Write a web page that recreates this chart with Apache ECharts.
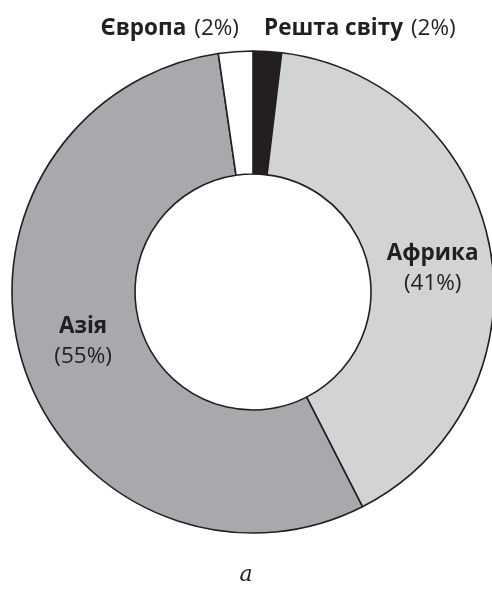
<!DOCTYPE html>
<html>
<head>
<meta charset="utf-8">
<script src="https://cdn.jsdelivr.net/npm/echarts@6/dist/echarts.min.js"></script>
<style>html,body{margin:0;padding:0;background:#fff;}#c{width:492px;height:590px;}</style>
</head>
<body>
<div id="c"></div>
<script>
var categories = ['Решта світу', 'Африка', 'Азія', 'Європа'];
var values = [1.9, 40.6, 55.2, 2.3];
var colors = ['#231f20', '#d1d3d4', '#a7a9ac', '#ffffff'];
var caption = 'а';

var FONT = '"Open Sans", "Noto Sans", sans-serif';
var TXT = '#231f20';

var chart = echarts.init(document.getElementById('c'));
var data = categories.map(function (c, i) {
  var inside = (i === 1 || i === 2);
  return {
    name: c,
    value: values[i],
    itemStyle: { color: colors[i] },
    label: {
      show: true,
      position: inside ? 'inside' : 'outside',
      formatter: function (p) {
        var pct = Math.round(p.percent) + '%';
        return inside ? '{b|' + p.name + '}\n{n|(' + pct + ')}' : '{b|' + p.name + '}{g| }{n|(' + pct + ')}';
      },
      rich: {
        b: { fontFamily: FONT, fontWeight: 'bold', fontSize: 22.5, color: TXT, lineHeight: 30 },
        n: { fontFamily: FONT, fontWeight: 'normal', fontSize: 22.5, color: TXT, lineHeight: 30 },
        g: { fontFamily: FONT, fontSize: 22.5, width: 8, lineHeight: 30 }
      }
    },
    labelLine: { show: false }
  };
});

chart.setOption({
  animation: false,
  backgroundColor: '#fff',
  title: {
    text: caption,
    left: 'center',
    top: 559,
    textStyle: { fontFamily: '"DejaVu Serif", serif', fontStyle: 'italic', fontWeight: 'normal', fontSize: 22, color: TXT }
  },
  series: [{
    type: 'pie',
    center: [253, 292],
    radius: [118, 241],
    startAngle: 90,
    clockwise: true,
    avoidLabelOverlap: false,
    itemStyle: { borderColor: '#231f20', borderWidth: 1.6 },
    emphasis: { disabled: true },
    data: data,
    labelLayout: function (p) {
      if (p.dataIndex === 0) return { x: 264, y: 29, align: 'left', verticalAlign: 'middle' };
      if (p.dataIndex === 3) return { x: 239, y: 29, align: 'right', verticalAlign: 'middle' };
      if (p.dataIndex === 1) return { dy: 9 };
      if (p.dataIndex === 2) return { dx: 4, dy: -6 };
      return {};
    }
  }]
});
</script>
</body>
</html>
